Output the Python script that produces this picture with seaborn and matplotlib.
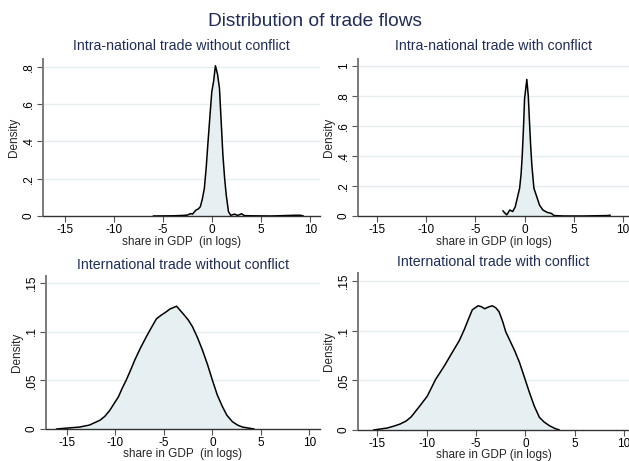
import matplotlib
matplotlib.use("Agg")
import matplotlib.pyplot as plt
import seaborn as sns
import pandas as pd

sns.set_style("white")
plt.rcParams["font.family"] = ["Liberation Sans", "DejaVu Sans"]

# Kernel density curves of log trade shares (x: share in GDP in logs, y: density)
intra_noconf_x = [-6.0, -4.0, -3.0, -2.5, -2.2, -2.0, -1.64, -1.4, -1.2, -1.0, -0.79, -0.6, -0.44,
                  -0.2, -0.03, 0.15, 0.34, 0.55, 0.75, 0.95, 1.1, 1.28, 1.44, 1.67, 1.9, 2.3, 2.6,
                  3.0, 3.3, 4.0, 6.0, 8.5, 9.0, 9.3]
intra_noconf_y = [0.0, 0.001, 0.003, 0.005, 0.013, 0.01, 0.032, 0.038, 0.05, 0.09, 0.148, 0.26, 0.38,
                  0.55, 0.666, 0.72, 0.805, 0.76, 0.684, 0.48, 0.327, 0.2, 0.113, 0.023, 0.004, 0.01,
                  0.003, 0.012, 0.002, 0.001, 0.0, 0.004, 0.004, 0.0]

intra_conf_x = [-2.2, -2.0, -1.8, -1.5, -1.2, -0.95, -0.78, -0.5, -0.35, -0.23, -0.1, 0.0, 0.23,
                0.38, 0.5, 0.62, 0.74, 0.95, 1.18, 1.52, 1.86, 2.3, 2.7, 3.0, 4.0, 6.0, 8.5, 8.7]
intra_conf_y = [0.035, 0.02, 0.008, 0.04, 0.03, 0.06, 0.107, 0.185, 0.28, 0.407, 0.6, 0.78, 0.911,
                0.8, 0.63, 0.47, 0.34, 0.185, 0.14, 0.073, 0.04, 0.024, 0.018, 0.003, 0.0, 0.0,
                0.003, 0.006]

inter_noconf_x = [-16.1, -13.7, -13.2, -12.7, -12.15, -11.6, -11.1, -10.6, -10.15, -9.7, -9.3, -8.9,
                  -8.46, -8.0, -7.43, -6.8, -6.3, -5.78, -5.26, -4.8, -4.4, -3.7, -3.0, -2.5, -2.06,
                  -1.55, -1.03, -0.5, 0.0, 0.5, 1.03, 1.5, 2.06, 2.6, 3.1, 4.3]
inter_noconf_y = [0.0, 0.002, 0.003, 0.004, 0.0065, 0.009, 0.013, 0.019, 0.026, 0.033, 0.042, 0.05,
                  0.06, 0.071, 0.083, 0.095, 0.104, 0.113, 0.117, 0.12, 0.123, 0.126, 0.118, 0.112,
                  0.105, 0.094, 0.081, 0.066, 0.05, 0.035, 0.023, 0.014, 0.0075, 0.004, 0.002, 0.0]

inter_conf_x = [-15.4, -14.0, -13.3, -12.7, -12.1, -11.6, -10.8, -9.95, -9.1, -8.25, -7.24, -6.7,
                -6.2, -5.8, -5.38, -4.8, -4.45, -4.13, -3.7, -3.35, -3.0, -2.67, -2.3, -2.0, -1.62,
                -1.1, -0.6, -0.1, 0.4, 0.9, 1.42, 1.9, 2.44, 3.0, 3.45]
inter_conf_y = [0.0, 0.002, 0.004, 0.006, 0.009, 0.013, 0.023, 0.034, 0.051, 0.064, 0.081, 0.09,
                0.101, 0.111, 0.121, 0.125, 0.124, 0.122, 0.124, 0.125, 0.123, 0.119, 0.109, 0.099,
                0.091, 0.08, 0.068, 0.053, 0.038, 0.024, 0.0127, 0.008, 0.0043, 0.0015, 0.0]

panel_titles = ["Intra-national trade without conflict", "Intra-national trade with conflict",
                "International trade without conflict", "International trade with conflict"]
x_labels = ["share in GDP  (in logs)", "share in GDP (in logs)",
            "share in GDP  (in logs)", "share in GDP (in logs)"]
x_ticks = [-15, -10, -5, 0, 5, 10]
y_ticks_intra_noconf = [0, 0.2, 0.4, 0.6, 0.8]
y_ticks_intra_conf = [0, 0.2, 0.4, 0.6, 0.8, 1.0]
y_ticks_inter = [0, 0.05, 0.10, 0.15]

W, H = 629, 461
fig = plt.figure(figsize=(W / 100, H / 100), dpi=100)

NAVY = "#1f2d55"
FILL = "#e6f0f2"
GRID = "#e4eef0"
FS = 8.5


def fmt(v):
    if v == 0:
        return "0"
    if v == 1:
        return "1"
    s = f"{v:g}"
    return s.replace("0.", ".", 1)


def panel(px_left, px_right, px_top, px_bottom, xs, ys, xlim, ylim, yticks, title, xlabel,
          title_y, xpad=0):
    ax = fig.add_axes([px_left / W, 1 - px_bottom / H, (px_right - px_left) / W, (px_bottom - px_top) / H])
    df = pd.DataFrame({"x": xs, "density": ys})
    ax.fill_between(df["x"], 0, df["density"], color=FILL, lw=0, zorder=1)
    sns.lineplot(data=df, x="x", y="density", ax=ax, color="black", lw=1.1, zorder=3)
    ax.set_xlim(*xlim)
    ax.set_ylim(*ylim)
    ax.set_xticks(x_ticks)
    ax.set_xticklabels([str(t) for t in x_ticks], fontsize=FS)
    ax.set_yticks(yticks)
    ax.set_yticklabels([fmt(t) for t in yticks], fontsize=FS, rotation=90, va="center")
    for t in yticks[1:]:
        ax.axhline(t, color=GRID, lw=1, zorder=0)
    for s in ["top", "right"]:
        ax.spines[s].set_visible(False)
    ax.spines["left"].set_color("#7a7a7a")
    ax.spines["left"].set_linewidth(1.4)
    ax.spines["bottom"].set_color("#333333")
    ax.spines["bottom"].set_linewidth(1.0)
    ax.tick_params(axis="both", direction="out", length=4, width=0.8, color="#555555", pad=2,
                   labelcolor="black")
    ax.tick_params(axis="x", bottom=True)
    ax.tick_params(axis="y", left=True)
    ax.set_xlabel(xlabel, fontsize=FS, labelpad=xpad)
    ax.set_ylabel("Density", fontsize=FS, labelpad=2)
    fig.text((px_left + px_right) / 2 / W, 1 - title_y / H, title, ha="center", va="center",
             fontsize=10.2, color=NAVY)
    return ax


panel(43, 320, 59, 216, intra_noconf_x, intra_noconf_y, (-17.24, 11.0), (0, 0.841),
      y_ticks_intra_noconf, panel_titles[0], x_labels[0], 46)
panel(358, 629, 59, 216, intra_conf_x, intra_conf_y, (-16.9, 10.6), (0, 1.047),
      y_ticks_intra_conf, panel_titles[1], x_labels[1], 46)
panel(46, 320, 276, 429, inter_noconf_x, inter_noconf_y, (-17.17, 11.1), (0, 0.157),
      y_ticks_inter, panel_titles[2], x_labels[2], 265, xpad=-1)
panel(358, 629, 273, 430, inter_conf_x, inter_conf_y, (-16.97, 10.5), (0, 0.158),
      y_ticks_inter, panel_titles[3], x_labels[3], 262, xpad=-1)

fig.text(0.5, 1 - 21 / H, "Distribution of trade flows", ha="center", va="center",
         fontsize=13.8, color=NAVY)

fig.savefig("out.png", dpi=100, facecolor="white")
